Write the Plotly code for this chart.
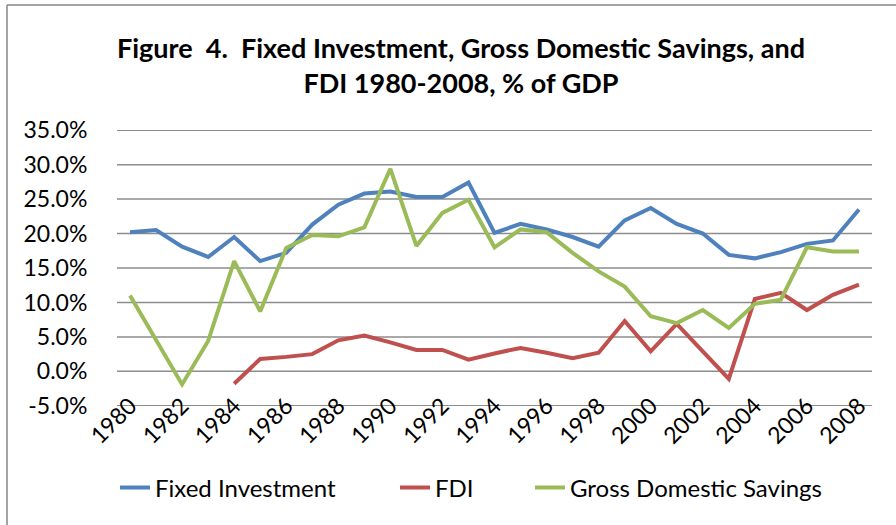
import plotly.graph_objects as go

years = list(range(1980, 2009))

fixed_investment = [20.2, 20.5, 18.1, 16.6, 19.5, 16.0, 17.2, 21.3, 24.2, 25.8,
                    26.1, 25.3, 25.3, 27.4, 20.1, 21.4, 20.6, 19.5, 18.1, 21.9,
                    23.7, 21.4, 20.0, 16.9, 16.4, 17.3, 18.5, 19.0, 23.5]

fdi = [None, None, None, None, -1.8, 1.8, 2.1, 2.5, 4.5, 5.2,
       4.2, 3.1, 3.1, 1.7, 2.6, 3.4, 2.7, 1.9, 2.7, 7.3,
       2.9, 6.9, 2.9, -1.1, 10.5, 11.4, 8.9, 11.1, 12.6]

gross_domestic_savings = [11.0, 4.6, -1.9, 4.4, 16.0, 8.7, 17.9, 19.8, 19.6, 20.9,
                          29.4, 18.2, 23.0, 24.9, 18.0, 20.6, 20.2, 17.2, 14.5, 12.3,
                          8.0, 7.0, 8.9, 6.3, 9.8, 10.4, 18.0, 17.4, 17.4]

y_ticks = [-5, 0, 5, 10, 15, 20, 25, 30, 35]
y_tick_labels = ["-5.0%", "0.0%", "5.0%", "10.0%", "15.0%", "20.0%", "25.0%", "30.0%", "35.0%"]
x_ticks = list(range(1980, 2009, 2))

series = [
    ("Fixed Investment", fixed_investment, "#4F81BD", "legend"),
    ("FDI", fdi, "#C0504D", "legend2"),
    ("Gross Domestic Savings", gross_domestic_savings, "#9BBB59", "legend3"),
]

FONT = "Lato, 'Open Sans', sans-serif"

fig = go.Figure()
for name, vals, color, lg in series:
    fig.add_trace(go.Scatter(x=years, y=vals, name=name, mode="lines", legend=lg,
                             line=dict(color=color, width=4), connectgaps=False))

W, H = 896, 525
L, R, T, B = 117, 24, 130, 119
pw, ph = W - L - R, H - T - B

def px_x(p):
    return (p - L) / pw

def px_y(p):
    return (H - B - p) / ph

def legend_at(text_start):
    return dict(orientation="h", x=px_x(text_start - 42), xanchor="left",
                y=px_y(488), yanchor="middle", font=dict(size=24),
                bgcolor="rgba(0,0,0,0)")

# horizontal gridlines at the y-axis tick values
grid_shapes = [
    dict(type="line", xref="paper", yref="y", x0=0, x1=1, y0=v, y1=v, layer="below",
         line=dict(color="#8c8c8c", width=1.5))
    for v in y_ticks
]

frame_shapes = [
    dict(type="line", xref="paper", yref="paper", x0=px_x(7), x1=px_x(7),
         y0=px_y(5), y1=px_y(530), line=dict(color="#868686", width=1.5)),
    dict(type="line", xref="paper", yref="paper", x0=px_x(7), x1=px_x(900),
         y0=px_y(5), y1=px_y(5), line=dict(color="#868686", width=1.5)),
]

fig.update_layout(
    template="none",
    width=W, height=H,
    margin=dict(l=L, r=R, t=T, b=B, autoexpand=False),
    paper_bgcolor="white", plot_bgcolor="white",
    font=dict(family=FONT, size=22, color="black"),
    title=dict(text="<b>Figure  4.  Fixed Investment, Gross Domestic Savings, and<br>FDI 1980-2008, % of GDP</b>",
               x=0.5 * (117 + 805) / W, xanchor="center", y=1 - 58 / H, yanchor="middle",
               font=dict(family=FONT, size=27, color="black")),
    xaxis=dict(range=[1979.5, 2008.5], tickmode="array", tickvals=x_ticks,
               ticktext=[str(v) for v in x_ticks], tickangle=-45,
               showgrid=False, zeroline=False, showline=False, ticks="",
               ticklabelstandoff=-19,
               tickfont=dict(size=23), automargin=False),
    yaxis=dict(range=[-5.03, 35.03], tickmode="array", tickvals=y_ticks, ticktext=y_tick_labels,
               showgrid=False, zeroline=False,
               showline=False, ticks="outside", ticklen=24, tickcolor="rgba(0,0,0,0)",
               tickfont=dict(size=23), automargin=False),
    legend=legend_at(157),
    legend2=legend_at(437),
    legend3=legend_at(572),
    showlegend=True,
    shapes=grid_shapes + frame_shapes,
)

fig.write_html("out.html", config={"displayModeBar": False},
               post_script="document.body.style.margin='0';document.body.style.overflow='hidden';")
